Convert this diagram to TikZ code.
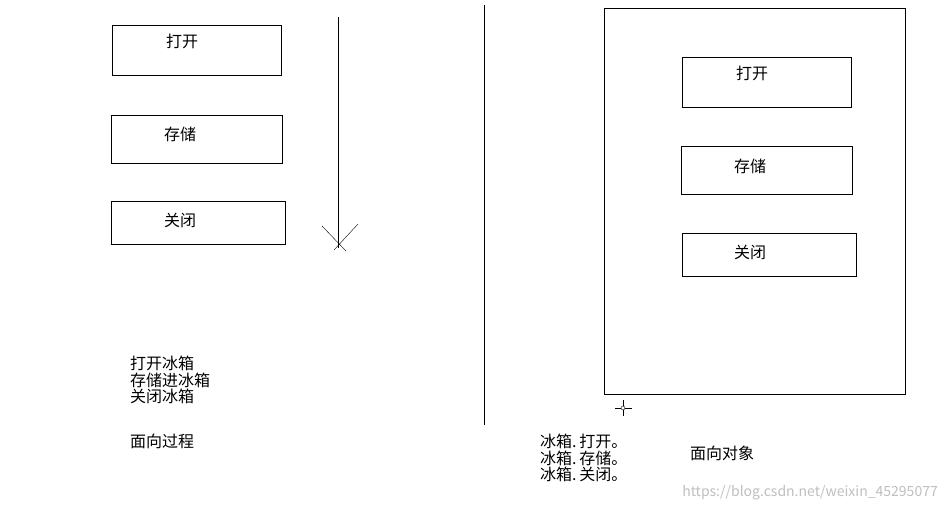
\documentclass[tikz,border=0pt]{standalone}
\usepackage{fontspec}
\setmainfont{Noto Sans CJK SC}
\begin{document}
\begin{tikzpicture}[x=1pt,y=-1pt,
  box/.style={draw,thin},
  lbl/.style={anchor=west,inner sep=0pt,font=\fontsize{16}{17}\selectfont},
  ln/.style={draw,thin}]
\useasboundingbox[fill=white] (0,0) rectangle (947,510);
% left boxes
\node[box,minimum width=169,minimum height=50] (b1) at (196.5,50.5) {};
\node[box,minimum width=171,minimum height=48] (b2) at (196.5,139) {};
\node[box,minimum width=174,minimum height=43] (b3) at (198.5,222.5) {};
\node[lbl] (t1) at (166,41) {打开};
\node[lbl] (t2) at (164,134) {存储};
\node[lbl] (t3) at (164,220) {关闭};
% arrow
\coordinate (a0) at (338,17);
\coordinate (a1) at (338,248);
\draw[ln] (a0) -- (a1);
\coordinate (p1) at (322,226); \coordinate (q1) at (346,251);
\coordinate (p2) at (358,224); \coordinate (q2) at (334,250);
\draw[ln] (p1) -- (q1); \draw[ln] (p2) -- (q2);
% texts left
\node[lbl,align=left,font=\fontsize{16}{16.5}\selectfont] (lt) at (130,380) {打开冰箱\\存储进冰箱\\关闭冰箱};
\node[lbl] (lp) at (130,441) {面向过程};
% divider
\coordinate (d0) at (484,5); \coordinate (d1) at (484,425);
\draw[ln] (d0) -- (d1);
% right big frame
\node[box,minimum width=301,minimum height=386] (fr) at (754.5,201) {};
\node[box,minimum width=169,minimum height=50] (r1) at (766.5,82.5) {};
\node[box,minimum width=171,minimum height=48] (r2) at (766.5,170.5) {};
\node[box,minimum width=174,minimum height=43] (r3) at (769,254.5) {};
\node[lbl] (s1) at (736,73) {打开};
\node[lbl] (s2) at (734,166) {存储};
\node[lbl] (s3) at (734,252) {关闭};
% crosshair
\coordinate (c) at (623,408);
\coordinate (ch0) at (615,408); \coordinate (ch1) at (632,408);
\coordinate (cv0) at (623,400); \coordinate (cv1) at (623,416);
\draw[ln] (ch0) -- (ch1); \draw[ln] (cv0) -- (cv1);
\draw[ln,fill=white] (c) circle (2);
\node[lbl,align=left,font=\fontsize{16}{16.5}\selectfont] (rt) at (540,458) {冰箱.\,打开。\\冰箱.\,存储。\\冰箱.\,关闭。};
\node[lbl] (ro) at (690,453) {面向对象};
\node[anchor=east,inner sep=0pt,text=black!25,font=\fontsize{14}{15}\selectfont] (wm) at (938,493) {https://blog.csdn.net/weixin\_45295077};
\end{tikzpicture}
\end{document}
